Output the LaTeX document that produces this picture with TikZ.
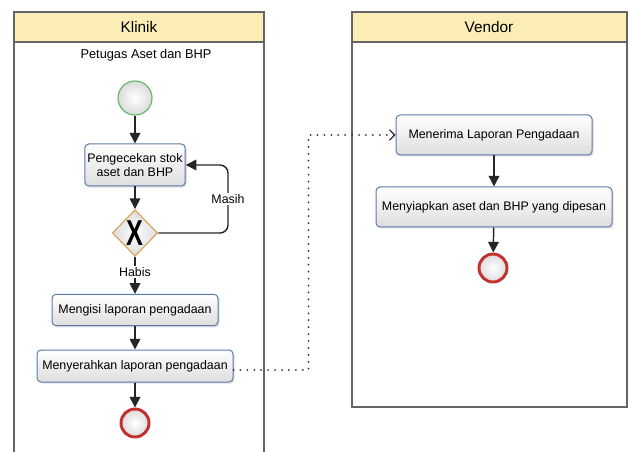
\documentclass[tikz,border=0pt]{standalone}
\usepackage{fontspec}
\usepackage{graphicx}
\setmainfont{Liberation Sans}
\usetikzlibrary{arrows.meta,positioning,shapes.geometric,shadows}
\definecolor{laneline}{HTML}{656565}
\definecolor{lanehead}{HTML}{FCEDB6}
\definecolor{taskline}{HTML}{5B7BA8}
\definecolor{startline}{HTML}{68B868}
\definecolor{endline}{HTML}{C2302F}
\definecolor{gateline}{HTML}{DBA65C}

\begin{document}
\begin{tikzpicture}[x=0.75pt,y=-0.75pt,
    every text node part/.style={align=center},
    lane/.style={draw=laneline,line width=1.1pt},
    lanetitle/.style={font=\fontsize{11.5}{13}\selectfont},
    task/.style={draw=taskline,line width=0.75pt,rounded corners=3pt,top color=white,bottom color=black!13,
      drop shadow={opacity=0.25,shadow xshift=1.2pt,shadow yshift=-1.2pt},
      inner sep=2pt,font=\fontsize{9.3}{11}\selectfont},
    startev/.style={circle,draw=startline,line width=0.9pt,inner color=white,outer color=black!14,minimum size=25.5pt,inner sep=0pt},
    endev/.style={circle,draw=endline,line width=2.2pt,inner color=white,outer color=black!14,minimum size=21pt,inner sep=0pt},
    gateway/.style={diamond,draw=gateline,line width=0.9pt,inner color=white,outer color=black!14,minimum width=34pt,minimum height=35pt,inner sep=0pt},
    flow/.style={draw=black!85,line width=1.1pt,-{Triangle[length=8pt,width=8pt]}},
    msg/.style={draw=black!80,line width=1.5pt,line cap=round,dash pattern=on 0pt off 5.2pt,-{Straight Barb[length=4pt,width=8pt,line width=0.8pt]}}]
  \useasboundingbox (0,0) rectangle (631,452);

  % pools
  \draw[lane] (14,452) -- (14,12) -- (264,12) -- (264,452);
  \draw[lane,fill=lanehead] (14,12) rectangle (264,42);
  \node[lanetitle] (klinik) at (139,27) {Klinik};
  \node[font=\fontsize{9.6}{11}\selectfont] (petugas) at (146,55) {Petugas Aset dan BHP};

  \draw[lane] (352,12) rectangle (627,407);
  \draw[lane,fill=lanehead] (352,12) rectangle (627,42);
  \node[lanetitle] (vendor) at (489,27) {Vendor};

  % klinik
  \node[startev] (mulai) at (135,98) {};
  \node[task,minimum width=73.5pt,minimum height=31.5pt] (cek) at (135,165) {Pengecekan stok\\aset dan BHP};
  \node[gateway] (gw) at (135,233) {\scalebox{0.7}[1]{\fontsize{27}{27}\selectfont\bfseries X}};
  \node[task,minimum width=124.5pt,minimum height=23.5pt] (isi) at (135,310) {Mengisi laporan pengadaan};
  \node[task,minimum width=147pt,minimum height=24pt] (serah) at (135,366) {Menyerahkan laporan pengadaan};
  \node[endev] (selesai1) at (135,423) {};

  % vendor
  \node[task,minimum width=147pt,minimum height=30pt] (terima) at (494,135) {Menerima Laporan Pengadaan};
  \node[task,minimum width=177pt,minimum height=30pt] (siap) at (494,207) {Menyiapkan aset dan BHP yang dipesan};
  \node[endev] (selesai2) at (493,268) {};

  \draw[flow] (mulai) -- (cek);
  \draw[flow] (cek) -- (gw);
  \draw[flow] (gw) -- node[pos=0.4,fill=white,inner sep=1pt,font=\fontsize{9.3}{11}\selectfont] {Habis} (isi);
  \draw[flow,rounded corners=6pt] (gw.east) -- (228,233) -- node[fill=white,inner sep=1pt,font=\fontsize{9.3}{11}\selectfont] {Masih} (228,165) -- (cek.east);
  \draw[flow] (isi) -- (serah);
  \draw[flow] (serah) -- (selesai1);

  \draw[flow] (terima) -- (siap);
  \draw[flow] (siap) -- (selesai2);

  \draw[msg] (serah.east) ++(0,4) -- ++(75,0) |- (terima.west);
\end{tikzpicture}
\end{document}
